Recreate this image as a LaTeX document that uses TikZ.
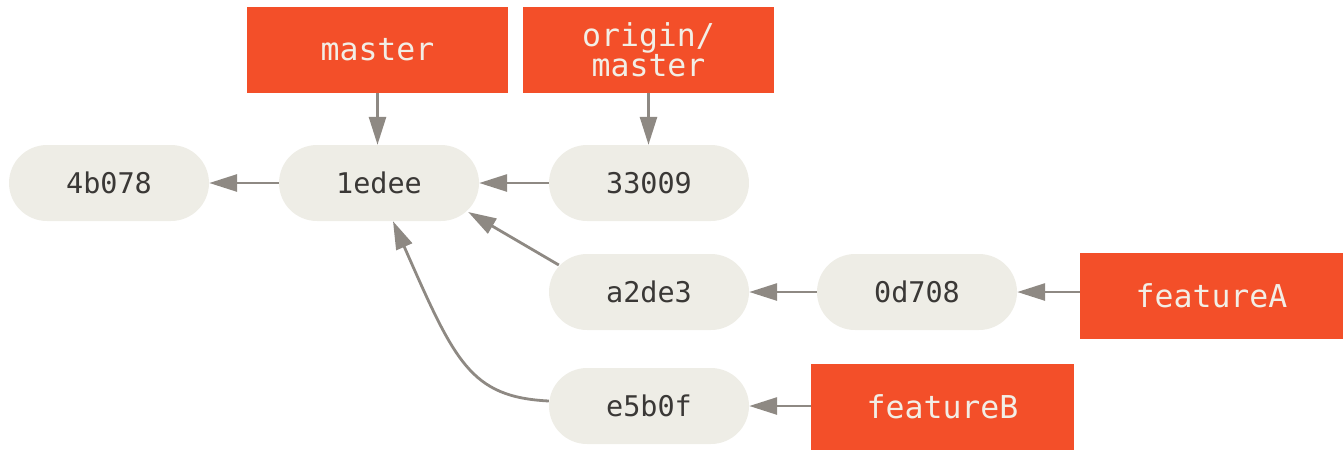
\documentclass[tikz,border=0pt]{standalone}
\usepackage{fontspec}
\setmonofont{DejaVu Sans Mono}
\usetikzlibrary{arrows.meta}
\definecolor{branchred}{HTML}{F34F29}
\definecolor{commitfill}{HTML}{EEEDE6}
\definecolor{committext}{HTML}{3A3836}
\definecolor{labeltext}{HTML}{F2EEE6}
\definecolor{arrowgray}{HTML}{8E8983}
\tikzset{
  commit/.style={fill=commitfill, rounded corners=38pt, minimum width=200pt, minimum height=76pt, inner sep=0pt, text=committext, font=\ttfamily\fontsize{28.5}{32}\selectfont},
  branch/.style={fill=branchred, minimum height=86pt, inner sep=0pt, text=labeltext, align=center, font=\ttfamily\fontsize{31.5}{34}\selectfont},
  link/.style={draw=arrowgray, line width=2.8pt, -{Triangle[length=28pt,width=17pt]}},
}
\begin{document}
\begin{tikzpicture}[x=1pt,y=-1pt]
\useasboundingbox (0,0) rectangle (1344,451);
% commits
\node[commit] (c4b078) at (109,183) {4b078};
\node[commit] (c1edee) at (379,183) {1edee};
\node[commit] (c33009) at (649,183) {33009};
\node[commit] (ca2de3) at (649,292) {a2de3};
\node[commit] (ce5b0f) at (649,406) {e5b0f};
\node[commit] (c0d708) at (917,292) {0d708};
% branches
\node[branch, minimum width=261pt] (master) at (377.5,50) {master};
\node[branch, minimum width=251pt] (origin) at (648.5,50) {origin/\\[-4pt]master};
\node[branch, minimum width=263pt] (featA) at (1211.5,296) {featureA};
\node[branch, minimum width=263pt] (featB) at (942.5,407) {featureB};
% connectors
\draw[link] (master) -- (master |- c1edee.north);
\draw[link] (origin) -- (origin |- c33009.north);
\draw[link] (c1edee) -- (c4b078);
\draw[link] (c33009) -- (c1edee);
\draw[link] ([xshift=10pt,yshift=27pt]ca2de3.west) -- ([xshift=-11pt,yshift=-29pt]c1edee.east);
\draw[link] (c0d708) -- (ca2de3);
\draw[link] (featA.west |- c0d708) -- (c0d708);
\draw[link] (featB.west |- ce5b0f) -- (ce5b0f);
\draw[link] ([yshift=5pt]ce5b0f.west) .. controls (470,397) and (455,362) .. ([xshift=14pt]c1edee.south);
\end{tikzpicture}
\end{document}
